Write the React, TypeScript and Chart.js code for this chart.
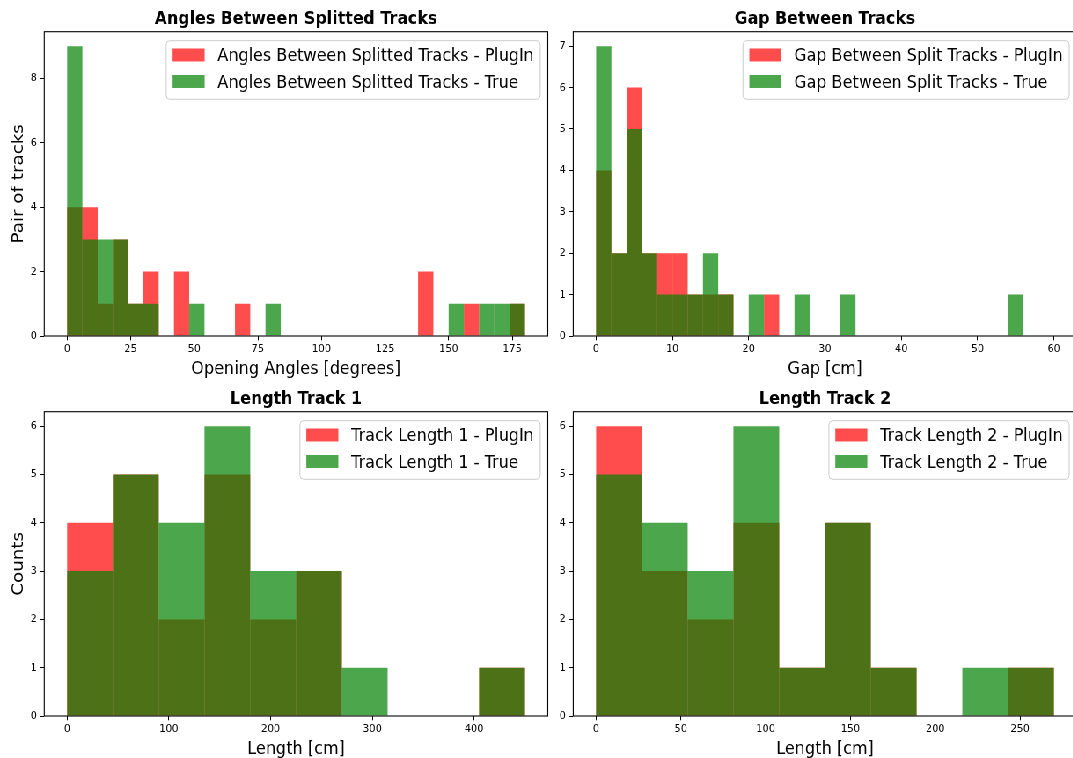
import React, { useEffect, useRef } from 'react';
import { Chart, registerables } from 'chart.js';

Chart.register(...registerables);

// ---- data -------------------------------------------------------------

const angleBins = [0, 6, 12, 18, 24, 30, 36, 42, 48, 54, 60, 66, 72, 78, 84, 90, 96, 102, 108, 114, 120, 126, 132, 138, 144, 150, 156, 162, 168, 174];
const angleBinWidth = 6;
const anglePlugIn = [4, 4, 1, 3, 1, 2, 0, 2, 0, 0, 0, 1, 0, 0, 0, 0, 0, 0, 0, 0, 0, 0, 0, 2, 0, 0, 1, 0, 0, 1];
const angleTrue = [9, 3, 3, 3, 1, 1, 0, 0, 1, 0, 0, 0, 0, 1, 0, 0, 0, 0, 0, 0, 0, 0, 0, 0, 0, 1, 0, 1, 1, 1];
const angleXTicks = [0, 25, 50, 75, 100, 125, 150, 175];
const angleYTicks = [0, 2, 4, 6, 8];

const gapBins = [0, 2, 4, 6, 8, 10, 12, 14, 16, 18, 20, 22, 24, 26, 28, 30, 32, 34, 36, 38, 40, 42, 44, 46, 48, 50, 52, 54, 56, 58];
const gapBinWidth = 2;
const gapPlugIn = [4, 2, 6, 2, 2, 2, 1, 1, 1, 0, 0, 1, 0, 0, 0, 0, 0, 0, 0, 0, 0, 0, 0, 0, 0, 0, 0, 0, 0, 0];
const gapTrue = [7, 2, 5, 2, 1, 1, 1, 2, 1, 0, 1, 0, 0, 1, 0, 0, 1, 0, 0, 0, 0, 0, 0, 0, 0, 0, 0, 1, 0, 0];
const gapXTicks = [0, 10, 20, 30, 40, 50, 60];
const gapYTicks = [0, 1, 2, 3, 4, 5, 6, 7];

const len1Bins = [0, 45, 90, 135, 180, 225, 270, 315, 360, 405];
const len1BinWidth = 45;
const len1PlugIn = [4, 5, 2, 5, 2, 3, 0, 0, 0, 1];
const len1True = [3, 5, 4, 6, 3, 3, 1, 0, 0, 1];
const len1XTicks = [0, 100, 200, 300, 400];
const len1YTicks = [0, 1, 2, 3, 4, 5, 6];

const len2Bins = [0, 27, 54, 81, 108, 135, 162, 189, 216, 243];
const len2BinWidth = 27;
const len2PlugIn = [6, 3, 2, 4, 1, 4, 1, 0, 0, 1];
const len2True = [5, 4, 3, 6, 1, 4, 1, 0, 1, 1];
const len2XTicks = [0, 50, 100, 150, 200, 250];
const len2YTicks = [0, 1, 2, 3, 4, 5, 6];

// ---- look -------------------------------------------------------------

const FONT = '"DejaVu Sans", sans-serif';
const RED = 'rgba(255, 0, 0, 0.7)';
const GREEN = 'rgba(0, 128, 0, 0.7)';
const SQUEEZE = 0.88; // the figure is drawn slightly condensed horizontally
const FRAME_W = 1073;
const FRAME_H = 758;

type Spec = {
  title: string;
  xLabel: string;
  yLabel?: string;
  plugInLabel: string;
  trueLabel: string;
  bins: number[];
  binWidth: number;
  plugIn: number[];
  truth: number[];
  xTicks: number[];
  yTicks: number[];
};

type Box = { left: number; top: number; width: number; height: number; yAxisWidth: number; padRight: number };

const specs: Spec[] = [
  {
    title: 'Angles Between Splitted Tracks',
    xLabel: 'Opening Angles [degrees]',
    yLabel: 'Pair of tracks',
    plugInLabel: 'Angles Between Splitted Tracks - PlugIn',
    trueLabel: 'Angles Between Splitted Tracks - True',
    bins: angleBins, binWidth: angleBinWidth, plugIn: anglePlugIn, truth: angleTrue,
    xTicks: angleXTicks, yTicks: angleYTicks,
  },
  {
    title: 'Gap Between Tracks',
    xLabel: 'Gap [cm]',
    plugInLabel: 'Gap Between Split Tracks - PlugIn',
    trueLabel: 'Gap Between Split Tracks - True',
    bins: gapBins, binWidth: gapBinWidth, plugIn: gapPlugIn, truth: gapTrue,
    xTicks: gapXTicks, yTicks: gapYTicks,
  },
  {
    title: 'Length Track 1',
    xLabel: 'Length [cm]',
    yLabel: 'Counts',
    plugInLabel: 'Track Length 1 - PlugIn',
    trueLabel: 'Track Length 1 - True',
    bins: len1Bins, binWidth: len1BinWidth, plugIn: len1PlugIn, truth: len1True,
    xTicks: len1XTicks, yTicks: len1YTicks,
  },
  {
    title: 'Length Track 2',
    xLabel: 'Length [cm]',
    plugInLabel: 'Track Length 2 - PlugIn',
    trueLabel: 'Track Length 2 - True',
    bins: len2Bins, binWidth: len2BinWidth, plugIn: len2PlugIn, truth: len2True,
    xTicks: len2XTicks, yTicks: len2YTicks,
  },
];

// canvas boxes in the (un-condensed) drawing space
const boxes: Box[] = [
  { left: 0, top: 0, width: 673, height: 380, yAxisWidth: 50.3, padRight: 50.5 },
  { left: 600, top: 0, width: 675, height: 380, yAxisWidth: 51.4, padRight: 51.4 },
  { left: 0, top: 380, width: 673, height: 380, yAxisWidth: 50.3, padRight: 50.5 },
  { left: 600, top: 380, width: 675, height: 380, yAxisWidth: 51.4, padRight: 51.4 },
];

// ---- plugins ----------------------------------------------------------

// black spines on all four sides, above the bars
const axesFrame = {
  id: 'axesFrame',
  afterDatasetsDraw(chart: any) {
    const { ctx, chartArea } = chart;
    const { left, top, right, bottom } = chartArea;
    ctx.save();
    ctx.strokeStyle = '#000';
    ctx.lineWidth = 1.1;
    ctx.strokeRect(left, top, right - left, bottom - top);
    ctx.restore();
  },
};

// framed legend in the upper-right corner of the plot area
const boxLegend = {
  id: 'boxLegend',
  afterDraw(chart: any) {
    const { ctx, chartArea } = chart;
    const fs = 18.2;
    const sets = chart.data.datasets;
    ctx.save();
    ctx.font = `${fs}px ${FONT}`;
    const textW = Math.max(...sets.map((d: any) => ctx.measureText(d.label).width));
    const pad = 0.4 * fs;
    const handleW = 2 * fs;
    const gapW = 0.8 * fs;
    const rowH = 17.5;
    const rowGap = 9;
    const w = pad * 2 + handleW + gapW + textW;
    const h = pad * 2 + rowH * sets.length + rowGap * (sets.length - 1);
    const x = chartArea.right - 8.6 - w;
    const y = chartArea.top + 9;
    ctx.beginPath();
    ctx.roundRect(x, y, w, h, 4);
    ctx.fillStyle = 'rgba(255,255,255,0.8)';
    ctx.fill();
    ctx.strokeStyle = '#cccccc';
    ctx.lineWidth = 1;
    ctx.stroke();
    sets.forEach((d: any, i: number) => {
      const rowTop = y + pad + i * (rowH + rowGap);
      ctx.fillStyle = d.backgroundColor;
      ctx.fillRect(x + pad, rowTop + 0.5, handleW, 13);
      ctx.fillStyle = '#000';
      ctx.textBaseline = 'alphabetic';
      ctx.textAlign = 'left';
      ctx.fillText(d.label, x + pad + handleW + gapW, rowTop + 13.4);
    });
    ctx.restore();
  },
};

// ---- chart ------------------------------------------------------------

function buildConfig(spec: Spec, box: Box): any {
  const first = spec.bins[0];
  const last = spec.bins[spec.bins.length - 1] + spec.binWidth;
  const span = last - first;
  const yMax = Math.max(...spec.plugIn, ...spec.truth) * 1.05;
  const toPoints = (counts: number[]) =>
    spec.bins.map((b, i) => ({ x: b + spec.binWidth / 2, y: counts[i] }));
  const tickFont = { family: FONT, size: 11.3 };
  const labelFont = { family: FONT, size: 18.3 };
  const grid = {
    display: true,
    drawOnChartArea: false,
    drawTicks: true,
    tickLength: 4.3,
    color: '#000',
    lineWidth: 1,
    offset: false,
  };

  return {
    type: 'bar',
    data: {
      datasets: [
        { label: spec.plugInLabel, data: toPoints(spec.plugIn), backgroundColor: RED, order: 1 },
        { label: spec.trueLabel, data: toPoints(spec.truth), backgroundColor: GREEN, order: 0 },
      ],
    },
    options: {
      animation: false,
      responsive: false,
      devicePixelRatio: 1,
      events: [],
      layout: { padding: { left: 0, right: box.padRight, top: 0, bottom: 0 } },
      datasets: {
        bar: {
          grouped: false,
          barPercentage: 1,
          categoryPercentage: 1,
          borderWidth: 0,
          inflateAmount: 0,
        },
      },
      plugins: {
        legend: { display: false },
        tooltip: { enabled: false },
        title: {
          display: true,
          text: spec.title,
          fullSize: false,
          color: '#000',
          font: { family: FONT, size: 18, weight: 'bold' },
          padding: { top: 8.8, bottom: 1.3 },
        },
      },
      scales: {
        x: {
          type: 'linear',
          min: first - span * 0.05,
          max: last + span * 0.05,
          offset: false,
          grid,
          border: { display: false },
          ticks: {
            font: tickFont,
            color: '#000',
            padding: 2.2,
            maxRotation: 0,
            autoSkip: false,
            callback: (v: number) => String(v),
          },
          title: {
            display: true,
            text: spec.xLabel,
            color: '#000',
            font: labelFont,
            padding: { top: 0, bottom: 0.2 },
          },
          afterBuildTicks: (s: any) => {
            s.ticks = spec.xTicks.map((v) => ({ value: v }));
          },
          afterFit: (s: any) => {
            s.height = 44;
          },
        },
        y: {
          type: 'linear',
          min: 0,
          max: yMax,
          grid,
          border: { display: false },
          ticks: {
            font: tickFont,
            color: '#000',
            padding: 4.1,
            callback: (v: number) => String(v),
          },
          title: {
            display: !!spec.yLabel,
            text: spec.yLabel || '',
            color: '#000',
            font: labelFont,
            padding: { top: 10.4, bottom: 0 },
          },
          afterBuildTicks: (s: any) => {
            s.ticks = spec.yTicks.map((v) => ({ value: v }));
          },
          afterFit: (s: any) => {
            s.width = box.yAxisWidth;
          },
        },
      },
    },
    plugins: [axesFrame, boxLegend],
  };
}

function HistPanel({ spec, box }: { spec: Spec; box: Box }) {
  const ref = useRef<HTMLCanvasElement>(null);
  useEffect(() => {
    if (!ref.current) return;
    const chart = new Chart(ref.current, buildConfig(spec, box));
    return () => chart.destroy();
  }, [spec, box]);
  return (
    <canvas
      ref={ref}
      width={box.width}
      height={box.height}
      style={{
        position: 'absolute',
        left: box.left,
        top: box.top,
        width: box.width,
        height: box.height,
        display: 'block',
      }}
    />
  );
}

export default function App() {
  return (
    <div
      style={{
        position: 'fixed',
        left: 0,
        top: 0,
        width: FRAME_W,
        height: FRAME_H,
        overflow: 'hidden',
        background: '#fff',
      }}
    >
      <div
        style={{
          position: 'absolute',
          left: 0,
          top: 0,
          width: 1300,
          height: FRAME_H,
          transform: `scaleX(${SQUEEZE})`,
          transformOrigin: '0 0',
        }}
      >
        {specs.map((s, i) => (
          <HistPanel key={i} spec={s} box={boxes[i]} />
        ))}
      </div>
    </div>
  );
}
